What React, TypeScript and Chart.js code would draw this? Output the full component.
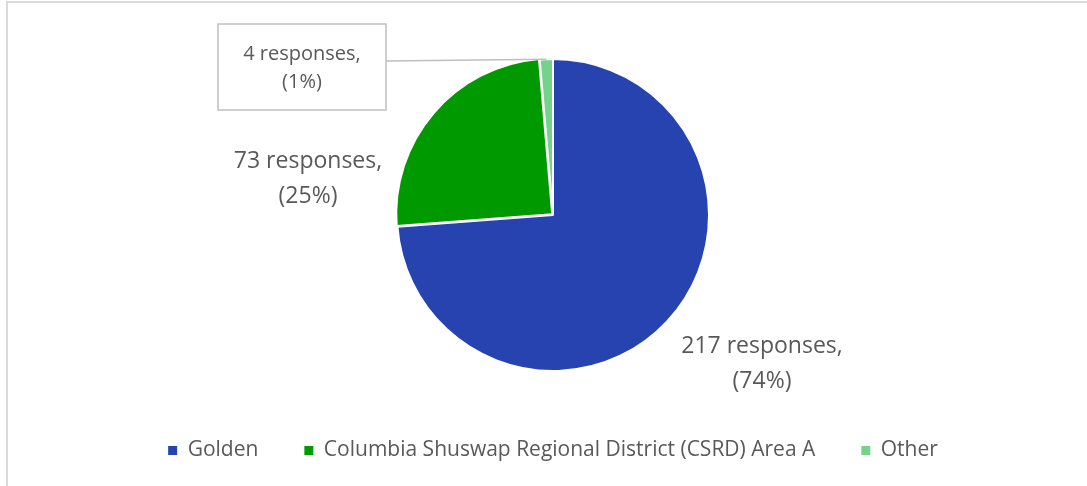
import React, { useEffect, useRef } from "react";
import { Chart, registerables } from "chart.js";

Chart.register(...registerables);

const categories = ["Golden", "Columbia Shuswap Regional District (CSRD) Area A", "Other"];
const responses = [217, 73, 4];
const sliceColors = ["#2643b0", "#009a00", "#74d28a"];
const sliceOffsets = [0, 4, 0];

const TEXT = "#595959";
const FONT = '"Open Sans", sans-serif';

const labelPlugin = {
  id: "sliceLabels",
  afterDatasetsDraw(chart: any) {
    const ctx = chart.ctx;
    const meta = chart.getDatasetMeta(0);
    const total = responses.reduce((a, b) => a + b, 0);
    const layout = [
      { dx: 209, y1: 138, y2: 173, size: 23, box: null as null | number[] },
      { dx: -245, y1: -47, y2: -12, size: 23, box: null },
      { dx: -251, y1: -155, y2: -127, size: 20, box: [-335, -191, 168, 86] },
    ];
    ctx.save();
    responses.forEach((v, i) => {
      const arc = meta.data[i];
      const p = arc.getProps(["x", "y", "startAngle", "endAngle", "outerRadius"], true);
      const cx = p.x;
      const cy = p.y;
      const L = layout[i];
      if (L.box) {
        const [bx, by, bw, bh] = L.box;
        ctx.strokeStyle = "#bfbfbf";
        ctx.lineWidth = 1.5;
        ctx.strokeRect(cx + bx, cy + by, bw, bh);
        const mid = (p.startAngle + p.endAngle) / 2;
        ctx.beginPath();
        ctx.moveTo(cx + bx + bw, cy + by + 37);
        ctx.lineTo(cx + Math.cos(mid) * p.outerRadius, cy + Math.sin(mid) * p.outerRadius);
        ctx.stroke();
      }
      ctx.fillStyle = TEXT;
      ctx.textAlign = "center";
      ctx.textBaseline = "alphabetic";
      ctx.font = `${L.size}px ${FONT}`;
      const pct = Math.round((v / total) * 100);
      ctx.fillText(`${v} responses,`, cx + L.dx, cy + L.y1);
      ctx.fillText(`(${pct}%)`, cx + L.dx, cy + L.y2);
    });
    ctx.restore();
  },
};

export default function App() {
  const ref = useRef<HTMLCanvasElement | null>(null);
  useEffect(() => {
    if (!ref.current) return;
    const chart = new Chart(ref.current, {
      type: "pie",
      data: {
        labels: categories,
        datasets: [
          {
            data: responses,
            backgroundColor: sliceColors,
            borderColor: "#ffffff",
            borderWidth: 2,
            offset: sliceOffsets,
            radius: 156,
          } as any,
        ],
      },
      options: {
        responsive: false,
        animation: false,
        devicePixelRatio: 1,
        layout: { padding: { left: 19, right: 0, top: 36, bottom: 15 } },
        plugins: {
          tooltip: { enabled: false },
          legend: {
            position: "bottom",
            labels: {
              font: { family: FONT, size: 21 },
              color: TEXT,
              boxWidth: 9,
              boxHeight: 9,
              padding: 46,
              generateLabels: (c: any) => {
                const base = (Chart as any).overrides.pie.plugins.legend.labels.generateLabels(c);
                return base.map((it: any) => ({ ...it, lineWidth: 0, strokeStyle: "rgba(0,0,0,0)", fontColor: TEXT }));
              },
            },
          },
        },
      } as any,
      plugins: [labelPlugin],
    });
    return () => chart.destroy();
  }, []);
  return (
    <div style={{ position: "absolute", left: 0, top: 0, width: 1087, height: 486, background: "#fff", overflow: "hidden" }}>
      <div style={{ position: "absolute", left: 6, top: 1, width: 1100, height: 500, borderTop: "2px solid #dadada", borderLeft: "2px solid #dadada", boxSizing: "border-box" }} />
      <canvas ref={ref} width={1087} height={486} style={{ position: "absolute", left: 0, top: 0 }} />
    </div>
  );
}
